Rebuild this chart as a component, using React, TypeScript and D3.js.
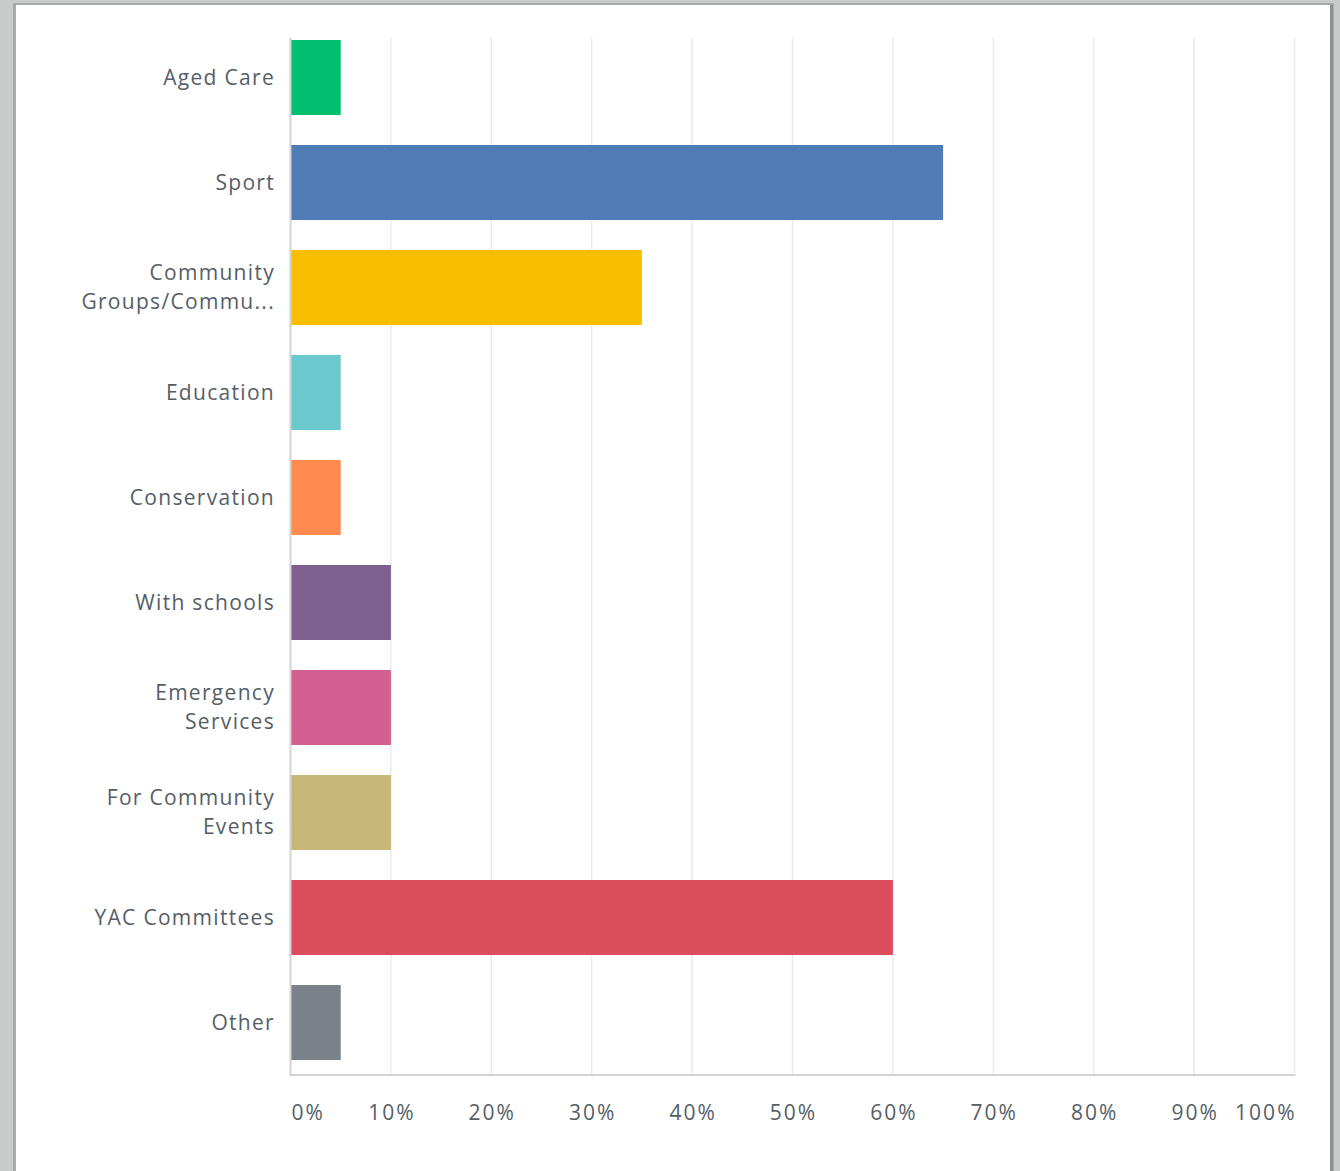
import React from "react";
import * as d3 from "d3";

const categories: string[][] = [
  ["Aged Care"],
  ["Sport"],
  ["Community", "Groups/Commu..."],
  ["Education"],
  ["Conservation"],
  ["With schools"],
  ["Emergency", "Services"],
  ["For Community", "Events"],
  ["YAC Committees"],
  ["Other"],
];
const values: number[] = [5, 65, 35, 5, 5, 10, 10, 10, 60, 5];
const colors: string[] = [
  "#00BF6F", "#507CB6", "#F9BE00", "#6BC8CD", "#FF8B4F",
  "#7F5F90", "#D25F90", "#C7B879", "#DB4D5C", "#7A8189",
];
const ticks: number[] = [0, 10, 20, 30, 40, 50, 60, 70, 80, 90, 100];

const W = 1340;
const H = 1171;
const x0 = 290.5;
const x1 = 1294.5;
const yTop = 38;
const yBot = 1075;

export default function App() {
  const x = d3.scaleLinear().domain([0, 100]).range([x0, x1]);
  const y = d3
    .scaleBand<number>()
    .domain(d3.range(categories.length))
    .range([25, 1075])
    .paddingInner(0.2857)
    .paddingOuter(0.1429);
  const font = "'Open Sans', sans-serif";
  const textColor = "#555e66";
  return (
    <svg
      width={W}
      height={H}
      style={{ position: "absolute", left: 0, top: 0, display: "block" }}
      fontFamily={font}
    >
      <rect x={0} y={0} width={W} height={H} fill="#c9cbca" />
      <rect x={13} y={3} width={1321} height={H} fill="#a9abaa" />
      <rect x={16} y={5} width={1315} height={H} fill="#ffffff" />
      <rect x={1330} y={5} width={3} height={H} fill="#8f9190" />
      {ticks.slice(1).map((t) => (
        <line
          key={t}
          x1={x(t)}
          x2={x(t)}
          y1={yTop}
          y2={yBot}
          stroke="#ebebeb"
          strokeWidth={1.5}
        />
      ))}
      {values.map((v, i) => (
        <rect
          key={i}
          x={x(0)}
          y={y(i)!}
          width={x(v) - x(0)}
          height={y.bandwidth()}
          fill={colors[i]}
        />
      ))}
      <line x1={x0} x2={x0} y1={yTop} y2={yBot + 1} stroke="#d3d3d3" strokeWidth={2} />
      <line x1={x0} x2={x1 + 1} y1={yBot} y2={yBot} stroke="#d3d3d3" strokeWidth={2} />
      {categories.map((lines, i) => {
        const cy = y(i)! + y.bandwidth() / 2;
        const lh = 29;
        const start = cy - ((lines.length - 1) * lh) / 2;
        return (
          <text
            key={i}
            textAnchor="end"
            fontSize={21}
            fill={textColor}
            letterSpacing={1.3}
          >
            {lines.map((l, j) => (
              <tspan key={j} x={275} y={start + j * lh} dy="0.35em">
                {l}
              </tspan>
            ))}
          </text>
        );
      })}
      {ticks.map((t, i) => (
        <text
          key={t}
          x={i === 0 ? x(t) + 1 : i === ticks.length - 1 ? x(t) + 2 : x(t) + 1}
          y={1113}
          dy="0.35em"
          textAnchor={i === 0 ? "start" : i === ticks.length - 1 ? "end" : "middle"}
          fontSize={21}
          fill={textColor}
          letterSpacing={2}
        >
          {t}%
        </text>
      ))}
    </svg>
  );
}
